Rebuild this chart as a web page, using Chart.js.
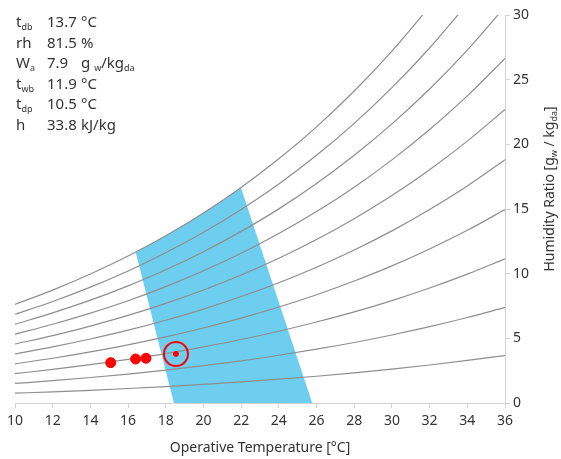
<!DOCTYPE html>
<html>
<head>
<meta charset="utf-8">
<script src="https://cdn.jsdelivr.net/npm/chart.js@4"></script>
<style>
  body { margin: 0; background: #fff; }
  #wrap { width: 561px; height: 459px; }
</style>
</head>
<body>
<div id="wrap"><canvas id="psychroChart" width="561" height="459"></canvas></div>
<script>
// dry bulb temperatures for the RH lines
var tempC = [10, 12, 14, 16, 18, 20, 22, 24, 26, 28, 30, 32, 34, 36];
var rhLevels = [10, 20, 30, 40, 50, 60, 70, 80, 90, 100];

// humidity ratio [g/kg] for each RH line
var w10 = [0.76, 0.86, 0.98, 1.12, 1.27, 1.44, 1.63, 1.84, 2.07, 2.33, 2.62, 2.94, 3.29, 3.67];
var w20 = [1.51, 1.73, 1.97, 2.24, 2.54, 2.89, 3.26, 3.69, 4.16, 4.68, 5.26, 5.90, 6.61, 7.39];
var w30 = [2.27, 2.60, 2.96, 3.37, 3.82, 4.34, 4.91, 5.55, 6.26, 7.04, 7.92, 8.89, 9.96, 11.15];
var w40 = [3.03, 3.46, 3.95, 4.50, 5.11, 5.80, 6.56, 7.42, 8.37, 9.43, 10.60, 11.91, 13.35, 14.95];
var w50 = [3.79, 4.34, 4.95, 5.63, 6.40, 7.26, 8.23, 9.30, 10.50, 11.83, 13.31, 14.96, 16.78, 18.81];
var w60 = [4.56, 5.21, 5.95, 6.77, 7.70, 8.74, 9.90, 11.19, 12.64, 14.25, 16.04, 18.04, 20.25, 22.70];
var w70 = [5.32, 6.09, 6.95, 7.91, 9.00, 10.22, 11.58, 13.10, 14.80, 16.69, 18.80, 21.15, 23.75, 26.65];
var w80 = [6.09, 6.97, 7.95, 9.06, 10.30, 11.70, 13.27, 15.01, 16.97, 19.15, 21.58, 24.28, 27.29, 30.64];
var w90 = [6.86, 7.85, 8.96, 10.21, 11.62, 13.20, 14.97, 16.94, 19.15, 21.62, 24.38, 27.45, 30.87, null];
var w100 = [7.63, 8.73, 9.97, 11.36, 12.93, 14.70, 16.67, 18.88, 21.35, 24.12, 27.21, 30.65, null, null];

// comfort zone: upper edge (saturation curve + right side) and lower edge (left side + floor)
var zoneTopT = [16.40, 17, 18, 19, 20, 21, 21.99, 25.77];
var zoneTopW = [11.67, 12.13, 12.93, 13.79, 14.70, 15.66, 16.65, 0];
var zoneBottomT = [16.40, 18.43, 25.77];
var zoneBottomW = [11.67, 0, 0];

// measured points and the current one
var sampleT = [15.08, 16.40, 16.95];
var sampleW = [3.12, 3.40, 3.46];
var currentT = [18.54];
var currentW = [3.79];

// readout in the top left corner
var infoLabels = [["t", "db"], ["rh", ""], ["W", "a"], ["t", "wb"], ["t", "dp"], ["h", ""]];
var infoValues = ["13.7", "81.5", "7.9", "11.9", "10.5", "33.8"];
var infoUnits = ["°C", "%", "g_w/kg_da", "°C", "°C", "kJ/kg"];

var FONT = "'Noto Sans', 'Open Sans', sans-serif";
var TEXT = "#333";

function toPoints(xs, ys) {
  var pts = [];
  for (var i = 0; i < xs.length; i++) {
    if (ys[i] !== null) pts.push({ x: xs[i], y: ys[i] });
  }
  return pts;
}

// draws a list of {t, sub} pieces, subscripts smaller and lower
function drawRich(ctx, parts, x, y, size) {
  for (var i = 0; i < parts.length; i++) {
    var sub = parts[i].sub;
    ctx.font = (sub ? Math.round(size * 0.62) : size) + "px " + FONT;
    ctx.fillText(parts[i].t, x, y + (sub ? size * 0.22 : 0));
    x += ctx.measureText(parts[i].t).width;
  }
  return x;
}
function richWidth(ctx, parts, size) {
  var w = 0;
  for (var i = 0; i < parts.length; i++) {
    ctx.font = (parts[i].sub ? Math.round(size * 0.62) : size) + "px " + FONT;
    w += ctx.measureText(parts[i].t).width;
  }
  return w;
}
function parseRich(s) {
  var parts = [];
  var bits = s.split("_");
  for (var i = 0; i < bits.length; i++) {
    if (i === 0) { parts.push({ t: bits[i], sub: false }); continue; }
    // subscript is the leading letters, the rest is normal text
    var m = bits[i].match(/^([a-z]+)(.*)$/);
    parts.push({ t: m[1], sub: true });
    if (m[2]) parts.push({ t: m[2], sub: false });
  }
  return parts;
}

var textPlugin = {
  id: "textPlugin",
  afterDraw: function (chart) {
    var ctx = chart.ctx;
    ctx.save();
    ctx.fillStyle = TEXT;
    ctx.textBaseline = "alphabetic";
    ctx.textAlign = "left";
    for (var i = 0; i < infoLabels.length; i++) {
      var y = 27 + i * 20.5;
      drawRich(ctx, [{ t: infoLabels[i][0], sub: false }, { t: infoLabels[i][1], sub: true }], 16, y, 15);
      ctx.font = "15px " + FONT;
      ctx.fillText(infoValues[i], 47, y);
      var unit = infoUnits[i];
      if (unit.indexOf("_") >= 0) {
        var up = parseRich(unit);
        up[0].t = "g ";
        drawRich(ctx, up, 81, y, 15);
      } else {
        ctx.font = "15px " + FONT;
        ctx.fillText(unit, 81, y);
      }
    }
    // rotated y axis title with subscripts
    var title = parseRich("Humidity Ratio [g_w / kg_da]");
    var tw = richWidth(ctx, title, 14);
    ctx.translate(554, 189);
    ctx.rotate(-Math.PI / 2);
    drawRich(ctx, title, -tw / 2, 0, 14);
    ctx.restore();
  }
};

var zoneColor = "#6dcef0";
var datasets = [];
datasets.push({
  type: "line",
  label: "comfort zone",
  data: toPoints(zoneTopT, zoneTopW),
  borderWidth: 0,
  borderColor: zoneColor,
  backgroundColor: zoneColor,
  fill: "+1",
  pointRadius: 0,
  tension: 0,
  order: 10
});
datasets.push({
  type: "line",
  label: "comfort zone floor",
  data: toPoints(zoneBottomT, zoneBottomW),
  borderWidth: 0,
  borderColor: zoneColor,
  pointRadius: 0,
  fill: false,
  tension: 0,
  order: 11
});
var rhSeries = [w10, w20, w30, w40, w50, w60, w70, w80, w90, w100];
for (var r = 0; r < rhSeries.length; r++) {
  datasets.push({
    type: "line",
    label: "RH " + rhLevels[r] + "%",
    data: toPoints(tempC, rhSeries[r]),
    borderColor: "#8e8e8e",
    borderWidth: 1.2,
    pointRadius: 0,
    fill: false,
    cubicInterpolationMode: "monotone",
    order: 5
  });
}
datasets.push({
  type: "scatter",
  label: "samples",
  data: toPoints(sampleT, sampleW),
  backgroundColor: "#ff0000",
  borderColor: "#ff0000",
  pointRadius: 5,
  order: 2
});
datasets.push({
  type: "scatter",
  label: "current ring",
  data: toPoints(currentT, currentW),
  backgroundColor: "rgba(0,0,0,0)",
  borderColor: "#ff0000",
  borderWidth: 2,
  pointRadius: 12,
  order: 1
});
datasets.push({
  type: "scatter",
  label: "current",
  data: toPoints(currentT, currentW),
  backgroundColor: "#ff0000",
  borderColor: "#ff0000",
  pointRadius: 2.5,
  order: 1
});

var axisColor = "#d3d3d3";
new Chart(document.getElementById("psychroChart"), {
  type: "line",
  data: { datasets: datasets },
  options: {
    responsive: false,
    devicePixelRatio: 1,
    animation: false,
    layout: { padding: { left: 15, top: 15, right: 0, bottom: 0 } },
    plugins: { legend: { display: false }, tooltip: { enabled: false } },
    scales: {
      x: {
        type: "linear",
        min: 10,
        max: 36,
        ticks: { stepSize: 2, color: TEXT, font: { size: 14, family: FONT }, padding: 5 },
        grid: { drawOnChartArea: false, drawTicks: true, tickLength: 5, color: axisColor },
        border: { color: axisColor },
        title: {
          display: true,
          text: "Operative Temperature [°C]",
          color: TEXT,
          font: { size: 14, family: FONT },
          padding: { top: 4, bottom: 3 }
        },
        afterFit: function (scale) { scale.height = 56; }
      },
      y: {
        type: "linear",
        position: "right",
        min: 0,
        max: 30,
        ticks: { stepSize: 5, color: TEXT, font: { size: 14, family: FONT }, padding: 3 },
        grid: { drawOnChartArea: false, drawTicks: true, tickLength: 5, color: axisColor },
        border: { color: axisColor },
        afterFit: function (scale) { scale.width = 56; }
      }
    }
  },
  plugins: [textPlugin]
});
</script>
</body>
</html>
